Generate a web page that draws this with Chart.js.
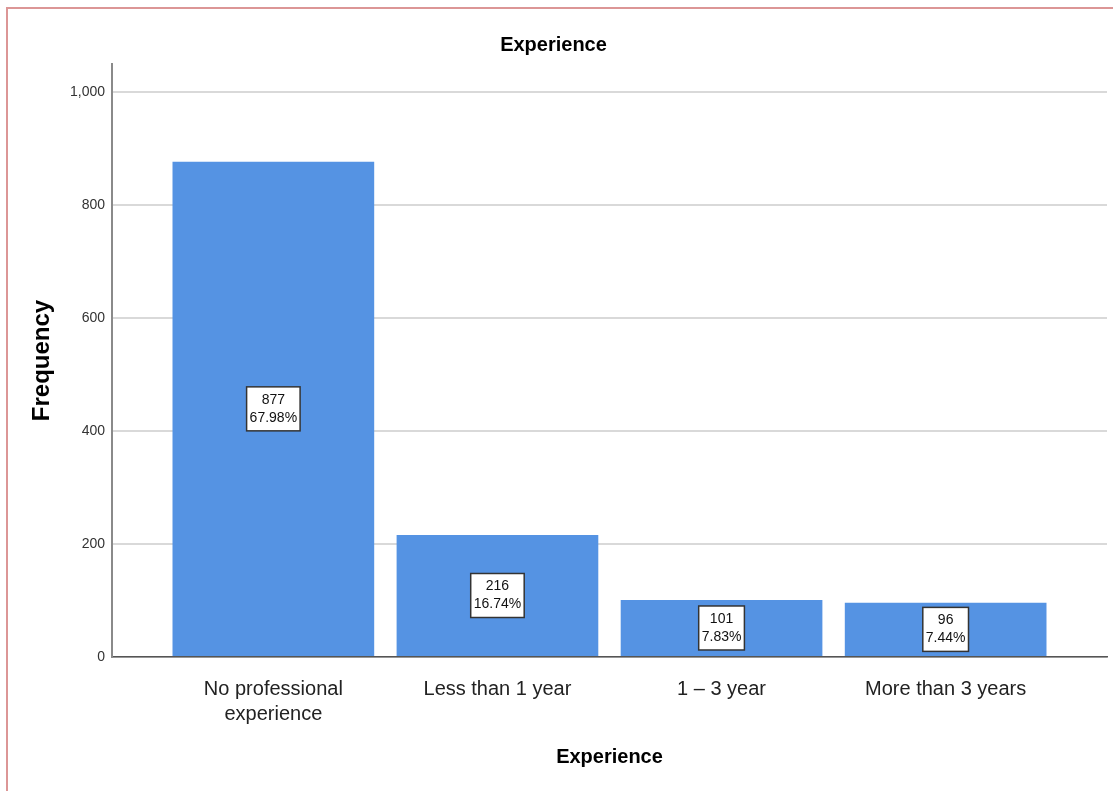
<!DOCTYPE html>
<html>
<head>
<meta charset="utf-8">
<script src="https://cdn.jsdelivr.net/npm/chart.js@4/dist/chart.umd.min.js"></script>
<style>
  body { margin: 0; background: #fff; }
  .wrap { position: relative; width: 1113px; height: 791px; }
  .frame {
    position: absolute; left: 6px; top: 7px; right: 0; bottom: 0;
    border-left: 2px solid #dc9696; border-top: 2px solid #dc9696;
    pointer-events: none;
  }
</style>
</head>
<body>
<div class="wrap">
  <canvas id="chart" width="1113" height="791"></canvas>
  <div class="frame"></div>
</div>
<script>
const categories = [
  ["No professional", "experience"],
  ["Less than 1 year"],
  ["1 \u2013 3 year"],
  ["More than 3 years"]
];
const frequencies = [877, 216, 101, 96];
const yTicks = [0, 200, 400, 600, 800, 1000];

const FONT = 'Arial, "Liberation Sans", sans-serif';
const total = frequencies.reduce((a, b) => a + b, 0);

// white boxes with count and percent in the middle of each bar
const barLabels = {
  id: "barLabels",
  afterDatasetsDraw(chart) {
    const ctx = chart.ctx;
    const meta = chart.getDatasetMeta(0);
    ctx.save();
    ctx.font = "14px " + FONT;
    ctx.textAlign = "center";
    ctx.textBaseline = "middle";
    meta.data.forEach((bar, i) => {
      const lines = [String(frequencies[i]), (frequencies[i] / total * 100).toFixed(2) + "%"];
      const w = Math.max(...lines.map(t => ctx.measureText(t).width)) + 6;
      const lh = 18;
      const h = lh * 2 + 8;
      const cx = bar.x;
      const cy = (bar.y + bar.base) / 2;
      ctx.fillStyle = "#fff";
      ctx.fillRect(cx - w / 2, cy - h / 2, w, h);
      ctx.strokeStyle = "#333";
      ctx.lineWidth = 1.5;
      ctx.strokeRect(cx - w / 2, cy - h / 2, w, h);
      ctx.fillStyle = "#111";
      ctx.fillText(lines[0], cx, cy - lh / 2);
      ctx.fillText(lines[1], cx, cy + lh / 2);
    });
    ctx.restore();
  }
};

new Chart(document.getElementById("chart"), {
  type: "bar",
  data: {
    datasets: [{
      data: frequencies.map((v, i) => ({ x: i, y: v })),
      backgroundColor: "#5593e3",
      borderWidth: 0,
      categoryPercentage: 1,
      barPercentage: 0.9
    }]
  },
  options: {
    responsive: false,
    animation: false,
    devicePixelRatio: 1,
    layout: { padding: { left: 0, right: 6, top: 0, bottom: 0 } },
    plugins: {
      legend: { display: false },
      tooltip: { enabled: false },
      title: {
        display: true,
        text: "Experience",
        color: "#000",
        font: { family: FONT, size: 20, weight: "bold", lineHeight: 1.2 },
        padding: { top: 33, bottom: 7 }
      }
    },
    scales: {
      x: {
        type: "linear",
        min: -0.72,
        max: 3.72,
        offset: false,
        grid: { display: false, offset: false },
        border: { display: true, color: "#555", width: 1.5 },
        ticks: {
          stepSize: 1,
          includeBounds: false,
          autoSkip: false,
          maxRotation: 0,
          padding: 12,
          color: "#222",
          font: { family: FONT, size: 20, lineHeight: 1.25 },
          callback: v => (Number.isInteger(v) && categories[v]) ? categories[v] : ""
        },
        title: {
          display: true,
          text: "Experience",
          color: "#000",
          font: { family: FONT, size: 20, weight: "bold", lineHeight: 1.2 },
          padding: { top: 0, bottom: 22 }
        },
        afterFit: s => { s.height = 134; }
      },
      y: {
        min: 0,
        max: 1050,
        grid: { color: "#d9d9d9", lineWidth: 2, drawTicks: false },
        border: { display: true, color: "#8a8a8a", width: 2 },
        afterBuildTicks: s => { s.ticks = yTicks.map(v => ({ value: v })); },
        ticks: {
          padding: 7,
          color: "#333",
          font: { family: FONT, size: 14 },
          callback: v => v.toLocaleString("en-US")
        },
        title: {
          display: true,
          text: "Frequency",
          color: "#000",
          font: { family: FONT, size: 24, weight: "bold", lineHeight: 1.2 },
          padding: { top: 28, bottom: 0 }
        },
        afterFit: s => { s.width = 112; }
      }
    }
  },
  plugins: [barLabels]
});
</script>
</body>
</html>
